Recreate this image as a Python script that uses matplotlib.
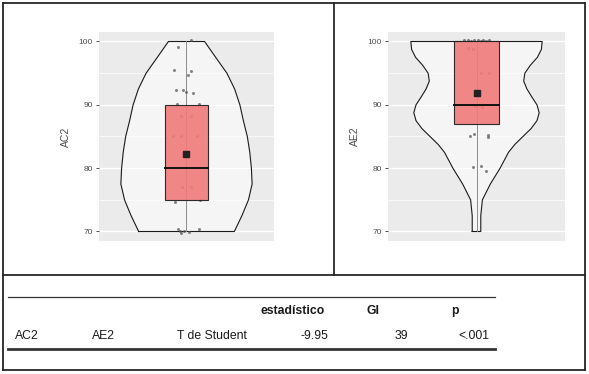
import matplotlib.pyplot as plt
from matplotlib.lines import Line2D
from matplotlib.patches import Rectangle

plt.rcParams['font.family'] = ['Liberation Sans', 'DejaVu Sans']

# violin outlines: value -> half width (x units)
ac2_vals = [70, 72.5, 75, 77.5, 80, 82.5, 85, 87.5, 90, 92.5, 95, 97.5, 100]
ac2_width = [0.328, 0.38, 0.425, 0.45, 0.445, 0.434, 0.417, 0.39, 0.366,
             0.33, 0.277, 0.20, 0.124]

ae2_vals = [70, 72.5, 75, 77.5, 80, 82.5, 83.75, 85, 86.25, 87.5, 88.75,
            90, 91.25, 92.5, 93.75, 95, 96.25, 97.5, 98.75, 100]
ae2_width = [0.029, 0.029, 0.04, 0.094, 0.16, 0.217, 0.26, 0.315, 0.37,
             0.41, 0.425, 0.41, 0.375, 0.342, 0.32, 0.328, 0.365, 0.413,
             0.44, 0.445]

# box stats: whisker low, q1, median, q3, whisker high, mean
ac2_box = [70, 75, 80, 90, 100, 82.3]
ae2_box = [70, 87, 90, 100, 100, 91.9]

# jittered points (x offset, value)
ac2_jx = [-0.057, 0.03, -0.084, 0.03, 0.011, -0.075, -0.023, -0.005, 0.048,
          -0.062, 0.084, -0.04, 0.03, -0.09, -0.04, 0.07, -0.03, 0.03,
          -0.08, 0.09, -0.06, -0.046, -0.016, 0.018, 0.087, -0.035]
ac2_pts = [99.2, 100.2, 95.5, 95.4, 94.7, 92.4, 92.3, 92.1, 91.8,
           90.2, 90.1, 88.2, 88.3, 85.0, 85.1, 85.0, 77.0, 77.0,
           74.7, 75.0, 70.4, 70.0, 70.1, 69.9, 70.4, 69.8]

ae2_jx = [-0.085, -0.06, -0.04, -0.015, 0.01, 0.03, 0.045, 0.065, 0.085,
          -0.055, -0.025, 0.03, 0.085, -0.01, 0.04,
          -0.044, -0.014, 0.075, 0.078, -0.023, 0.03, 0.064]
ae2_pts = [100.2, 100.3, 100.1, 100.2, 100.3, 100.1, 100.2, 100.1, 100.2,
           98.9, 98.8, 95.0, 95.1, 89.8, 89.7,
           85.1, 85.4, 85.3, 84.9, 80.2, 80.3, 79.6]

# results table
tbl_head = ['estadístico', 'Gl', 'p']
tbl_row = ['AC2', 'AE2', 'T de Student', '-9.95', '39', '<.001']

W, H = 589, 374
fig = plt.figure(figsize=(W / 100, H / 100), dpi=100)


def px(x, y):
    return x / W, 1 - y / H


def violin_panel(box, vals, width, jx, pts, label, x0, x1):
    ax = fig.add_axes([x0 / W, 1 - 241 / H, (x1 - x0) / W, 209 / H])
    ax.set_facecolor('#EBEBEB')
    ax.set_xlim(0.4, 1.6)
    ax.set_ylim(68.5, 101.5)
    ax.set_yticks([70, 80, 90, 100])
    ax.set_yticks([75, 85, 95], minor=True)
    ax.grid(True, which='major', color='white', lw=1.0)
    ax.grid(True, which='minor', color='white', lw=0.5)
    ax.set_axisbelow(True)
    ax.set_xticks([])
    for s in ax.spines.values():
        s.set_visible(False)
    ax.tick_params(axis='y', which='major', length=2.5, width=0.6,
                   color='#333333', labelsize=6, labelcolor='#4D4D4D', pad=2)
    ax.tick_params(axis='y', which='minor', length=0)

    left = [1 - w for w in width]
    right = [1 + w for w in width]
    ax.fill_betweenx(vals, left, right, color='white', alpha=0.5, lw=0, zorder=2)
    ax.plot(left + right[::-1] + [left[0]],
            vals + vals[::-1] + [vals[0]], color='#1a1a1a', lw=0.8, zorder=3)

    ax.plot([1, 1], [box[0], box[4]], color='#8c8c8c', lw=0.7, zorder=3)
    ax.plot([1 + d for d in jx], pts, 'o', ms=2.2, color='#555555',
            alpha=0.7, mec='none', zorder=4)
    ax.add_patch(Rectangle((0.85, box[1]), 0.3, box[3] - box[1],
                           facecolor='#F07A7A', alpha=0.9,
                           edgecolor='#1a1a1a', lw=0.8, zorder=5))
    ax.plot([0.85, 1.15], [box[2], box[2]], color='#111111', lw=1.4, zorder=6)
    ax.plot([1], [box[5]], 's', ms=4, color='#222222', zorder=7)

    ax.set_ylabel(label, fontsize=7.5, color='#4D4D4D')
    ax.yaxis.set_label_coords(-0.16, 0.5)
    return ax


violin_panel(ac2_box, ac2_vals, ac2_width, ac2_jx, ac2_pts, 'AC2', 99, 274)
violin_panel(ae2_box, ae2_vals, ae2_width, ae2_jx, ae2_pts, 'AE2', 388, 565)


def hline(x0, x1, y, lw, color):
    a, b = px(x0, y)
    c, _ = px(x1, y)
    fig.add_artist(Line2D([a, c], [b, b], lw=lw, color=color,
                          transform=fig.transFigure))


def vline(x, y0, y1, lw, color):
    a, b = px(x, y0)
    _, d = px(x, y1)
    fig.add_artist(Line2D([a, a], [b, d], lw=lw, color=color,
                          transform=fig.transFigure))


# outer frame and dividers
frame = '#262626'
hline(3, 585, 3, 1.3, frame)
hline(3, 585, 370, 1.3, frame)
vline(3, 3, 370, 1.3, frame)
vline(585, 3, 370, 1.3, frame)
hline(3, 585, 274.5, 1.3, frame)
vline(334, 3, 274.5, 1.3, frame)

# table
hline(8, 495, 297, 0.9, '#333333')
hline(8, 495, 349, 2.0, '#333333')

head_x = [293, 373, 455]
for t, x in zip(tbl_head, head_x):
    fig.text(*px(x, 311), t, ha='center', va='center', fontsize=8.8,
             fontweight='bold', color='#1a1a1a')

row_x = [15, 92, 177, 328, 408, 489]
row_ha = ['left', 'left', 'left', 'right', 'right', 'right']
for t, x, ha in zip(tbl_row, row_x, row_ha):
    fig.text(*px(x, 336), t, ha=ha, va='center', fontsize=8.8, color='#1a1a1a')

fig.savefig('out.png', dpi=100)
